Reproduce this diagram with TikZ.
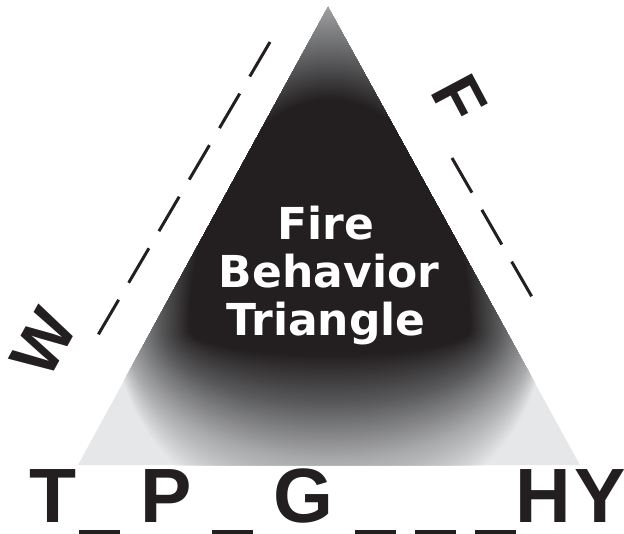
\documentclass[tikz,border=0pt]{standalone}
\usepackage{fontspec}
\newfontfamily\labfont{Liberation Sans}
\newfontfamily\centfont{DejaVu Sans}
\definecolor{inkdark}{HTML}{231F20}
\definecolor{trilight}{HTML}{E6E7E8}
\definecolor{gradA}{HTML}{5A5A5C}
\definecolor{gradB}{HTML}{A8A9AB}
% gradient contour: centre (330,330), half-width a, upper half-height bt, lower half-height bb
\newcommand{\gradcontour}[4]{%
  \fill[color=#4] ({330+#1},330) arc[start angle=0, end angle=180, x radius=#1 pt, y radius=#2 pt]
    arc[start angle=180, end angle=360, x radius=#1 pt, y radius=#3 pt] -- cycle;}
% one band of the gradient, from inner contour (a,bt,bb,colour) to outer contour (a,bt,bb,colour)
\newcommand{\gradband}[8]{%
  \foreach \gj in {40,39,...,0}{%
    \pgfmathsetmacro\gu{\gj/40}%
    \pgfmathsetmacro\ga{#1+(#5-#1)*\gu}%
    \pgfmathsetmacro\gbt{#2+(#6-#2)*\gu}%
    \pgfmathsetmacro\gbb{#3+(#7-#3)*\gu}%
    \pgfmathsetmacro\gp{100*\gu}%
    \gradcontour{\ga}{\gbt}{\gbb}{#8!\gp!#4}
  }%
}
\tikzset{
  bigletter/.style={inner sep=0pt, text=inkdark, font=\labfont\bfseries\fontsize{77}{77}\selectfont, anchor=base},
  sideletter/.style={inner sep=0pt, text=inkdark, font=\labfont\bfseries\fontsize{67}{67}\selectfont},
  centertext/.style={inner sep=0pt, text=white, font=\centfont\bfseries\fontsize{44}{48}\selectfont, anchor=base},
  blank/.style={fill=inkdark},
  dashline/.style={draw=inkdark, line width=3pt, dash pattern=on 40pt off 19.8pt}
}
\begin{document}
\begin{tikzpicture}[x=1pt,y=-1pt]
\useasboundingbox (0,0) rectangle (624,534);
\coordinate (apex) at (328,7);
\coordinate (bl) at (78,465);
\coordinate (br) at (580,465);
% triangle with gradient
\fill[trilight] (apex) -- (bl) -- (br) -- cycle;
\begin{scope}
  \clip (apex) -- (bl) -- (br) -- cycle;
  \gradband{205}{330}{130}{gradB}{214}{370}{197}{trilight}
  \gradband{170}{270}{75}{gradA}{205}{330}{130}{gradB}
  \gradband{140}{230}{25}{inkdark}{170}{270}{75}{gradA}
  \gradcontour{140}{230}{25}{inkdark}
\end{scope}
% center text
\node[centertext] (fire) at (326,240) {Fire};
\node[centertext] (behavior) at (329,288) {Behavior};
\node[centertext] (triangle) at (326,336) {Triangle};
% dashed side lines
\coordinate (lA) at (270,42);
\coordinate (lB) at (98,335);
\draw[dashline] (lA) -- (lB);
\coordinate (rA) at (452,158);
\coordinate (rB) at (532,297);
\draw[dashline] (rA) -- (rB);
% side letters
\node[sideletter, rotate=61] (W) at (44,343) {W};
\node[sideletter, rotate=-62] (F) at (459,99) {F};
% bottom letters
\node[bigletter] (T) at (53.5,522) {T};
\node[bigletter] (P) at (166.5,522) {P};
\node[bigletter] (G) at (303.5,522) {G};
\node[bigletter] (H) at (543.5,522) {H};
\node[bigletter] (Y) at (600.5,522) {Y};
% blanks
\fill[blank] (79,529.5) rectangle (120,534);
\fill[blank] (212,529.5) rectangle (253,534);
\fill[blank] (355,529.5) rectangle (396,534);
\fill[blank] (415,529.5) rectangle (456,534);
\fill[blank] (475,529.5) rectangle (516,534);
\end{tikzpicture}
\end{document}
